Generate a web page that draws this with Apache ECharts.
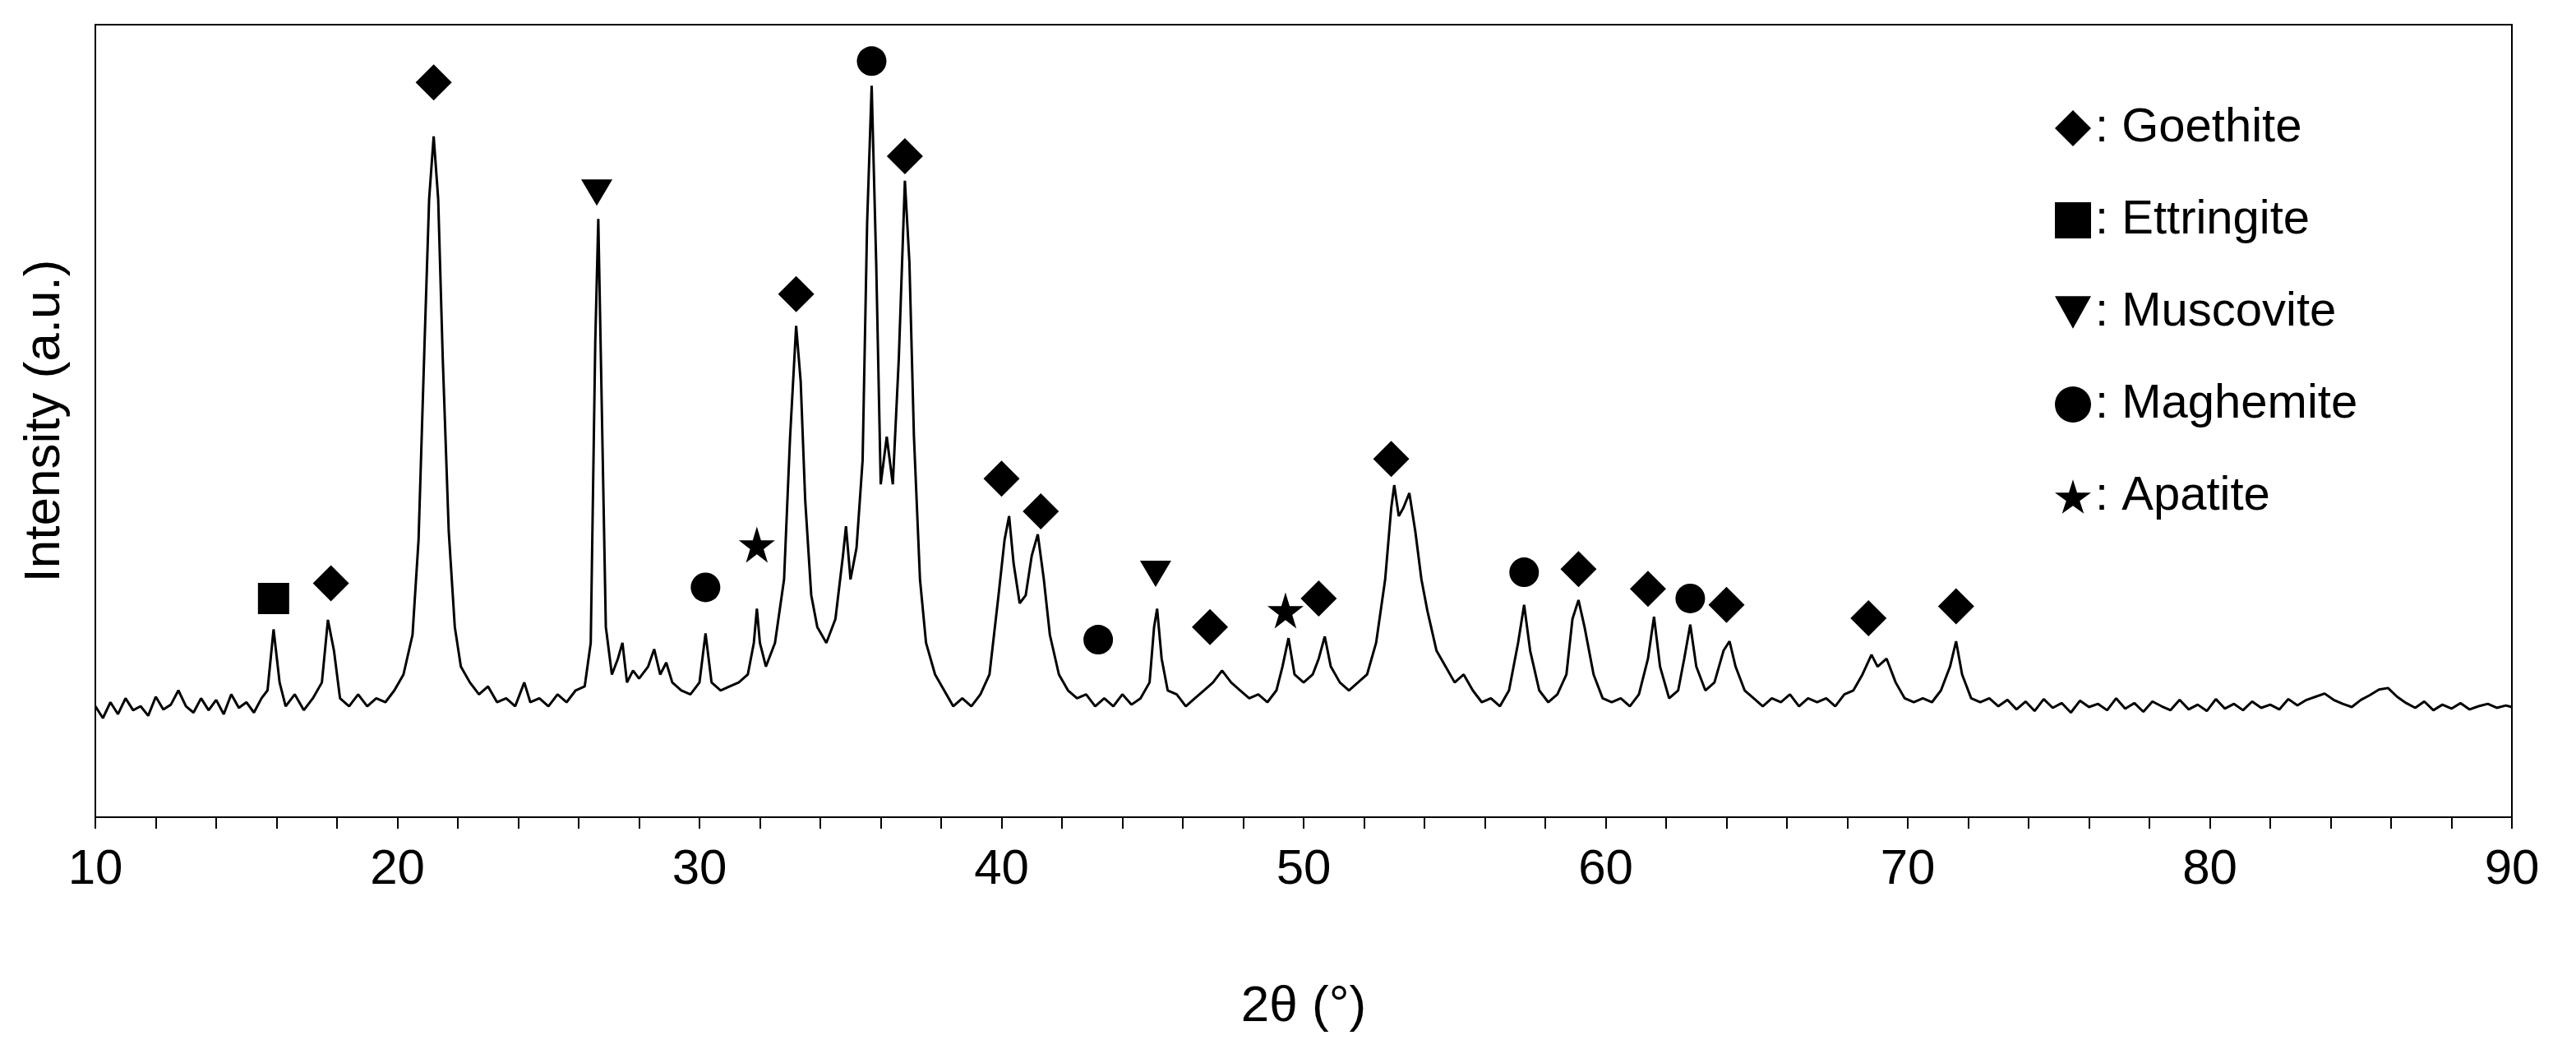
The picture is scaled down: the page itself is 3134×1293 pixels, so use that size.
<!DOCTYPE html><html><head><meta charset="utf-8"><script src="https://cdn.jsdelivr.net/npm/echarts@6/dist/echarts.min.js"></script>
<style>html,body{margin:0;background:#fff}#c{width:3134px;height:1293px}</style></head><body><div id="c"></div><script>
const twoTheta=[10,10.25,10.5,10.75,11,11.25,11.5,11.75,12,12.25,12.5,12.75,13,13.25,13.5,13.75,14,14.25,14.5,14.75,15,15.25,15.5,15.7,15.9,16.1,16.3,16.6,16.9,17.2,17.5,17.7,17.9,18.1,18.4,18.7,19,19.3,19.6,19.9,20.2,20.5,20.7,20.9,21.05,21.2,21.35,21.5,21.7,21.9,22.1,22.4,22.7,23,23.3,23.6,23.9,24.2,24.4,24.7,25,25.3,25.6,25.9,26.2,26.4,26.55,26.65,26.75,26.9,27.1,27.3,27.45,27.6,27.8,28,28.3,28.5,28.7,28.9,29.1,29.4,29.7,30,30.2,30.4,30.7,31,31.3,31.6,31.8,31.9,32,32.2,32.5,32.8,33,33.2,33.35,33.5,33.7,33.9,34.2,34.5,34.75,34.85,35,35.2,35.4,35.55,35.7,35.85,36,36.2,36.4,36.6,36.8,36.95,37.1,37.3,37.5,37.8,38.1,38.4,38.7,39,39.3,39.6,39.9,40.1,40.25,40.4,40.6,40.8,41,41.2,41.4,41.6,41.9,42.2,42.5,42.8,43.1,43.4,43.7,44,44.3,44.6,44.9,45.05,45.15,45.3,45.5,45.8,46.1,46.4,46.7,47,47.3,47.6,47.9,48.2,48.5,48.8,49.1,49.3,49.5,49.7,50,50.3,50.5,50.7,50.9,51.2,51.5,51.8,52.1,52.4,52.7,52.9,53,53.15,53.3,53.5,53.7,53.9,54.1,54.4,54.7,55,55.3,55.6,55.9,56.2,56.5,56.8,57.1,57.3,57.5,57.8,58.1,58.4,58.7,58.9,59.1,59.3,59.6,59.9,60.2,60.5,60.8,61.1,61.4,61.6,61.8,62.1,62.4,62.6,62.8,63,63.3,63.6,63.9,64.1,64.3,64.6,64.9,65.2,65.5,65.8,66.1,66.4,66.7,67,67.3,67.6,67.9,68.2,68.5,68.8,69,69.3,69.6,69.9,70.2,70.5,70.8,71.1,71.4,71.6,71.8,72.1,72.4,72.7,73,73.3,73.6,73.9,74.2,74.5,74.8,75.1,75.4,75.7,76,76.3,76.6,76.9,77.2,77.5,77.8,78.1,78.4,78.7,79,79.3,79.6,79.9,80.2,80.5,80.8,81.1,81.4,81.7,82,82.3,82.6,82.9,83.2,83.5,83.8,84.1,84.4,84.7,85,85.3,85.6,85.9,86.2,86.5,86.8,87.1,87.4,87.7,88,88.3,88.6,88.9,89.2,89.5,89.8,90];
const intensity=[14,12.5,14.5,13,15,13.5,14,12.8,15.2,13.6,14.2,16,14,13.2,15,13.5,14.8,13,15.5,13.8,14.5,13.2,15,16,23.7,17,14,15.5,13.5,15,17,24.9,21,15,14,15.5,14,15,14.5,16,18,23,35,60,78,85.9,78,58,36,24,19,17,15.5,16.5,14.5,15,14,17,14.5,15,14,15.5,14.5,16,16.5,22,60,75.5,55,24,18,20,22,17,18.5,17.5,19,21.2,18,19.5,17,16,15.5,17,23.2,17,16,16.5,17,18,22,26.3,22,19,22,30,48,62,55,40,28,24,22,25,33,36.7,30,34,45,75,92.3,70,42,48,42,58,80.3,70,48,30,22,18,16,14,15,14,15.5,18,28,35,38,32,27,28,33,35.7,30,23,18,16,15,15.5,14,15,14,15.5,14.2,15,17,24,26.3,20,16,15.5,14,15,16,17,18.5,17,16,15,15.5,14.5,16,19,22.6,18,17,18,20,22.8,19,17,16,17,18,22,30,39,41.9,38,39,40.9,36,30,26,21,19,17,18,16,14.5,15,14,16,22,26.8,21,16,14.5,15.5,18,25,27.4,24,18,15,14.5,15,14,15.5,20,25.3,19,15,16,20,24.3,19,16,17,21,22.2,19,16,15,14,15,14.5,15.5,14,15,14.5,15,14,15.5,16,18,20.5,19,20,17,15,14.5,15,14.5,16,19,22.2,18,15,14.5,15,14,14.8,13.6,14.6,13.4,14.9,13.8,14.4,13.2,14.7,13.9,14.3,13.5,15,13.7,14.4,13.3,14.6,14,13.5,14.8,13.6,14.2,13.4,14.9,13.7,14.3,13.5,14.6,13.8,14.2,13.6,14.9,14.1,14.8,15.2,15.6,14.8,14.3,13.9,14.8,15.4,16.1,16.3,15.2,14.4,13.8,14.6,13.5,14.2,13.7,14.4,13.6,14,14.3,13.8,14.1,13.9,14.2];
const goethite=[[17.8,29.5],[21.2,92.7],[33.2,66],[36.8,83.4],[40.0,42.7],[41.3,38.6],[46.9,24],[50.5,27.6],[52.9,45.2],[59.1,31.3],[61.4,28.8],[64.0,26.8],[68.7,25.1],[71.6,26.6]];
const ettringite=[[15.9,27.6]];
const muscovite=[[26.6,78.8],[45.1,30.7]];
const maghemite=[[30.2,29],[35.7,95.4],[43.2,22.4],[57.3,30.9],[62.8,27.6]];
const apatite=[[31.9,34.4],[49.4,26.1]];
const names=[': Goethite',': Ettringite',': Muscovite',': Maghemite',': Apatite'];
const star='path://M50,0 L61,35 L98,35 L68,57 L79,91 L50,70 L21,91 L32,57 L2,35 L39,35 Z';
const sc=(name,data,symbol,size)=>({type:'scatter',name,data,symbol,symbolSize:size,itemStyle:{color:'#000',opacity:1},z:5});
const chart=echarts.init(document.getElementById('c'));
chart.setOption({animation:false,
grid:{left:116,right:78,top:30,bottom:299,show:true,borderColor:'#000',borderWidth:2},
legend:{orient:'vertical',left:2495,top:122,itemGap:54,itemWidth:44,itemHeight:44,textStyle:{fontSize:58,color:'#000',fontFamily:'Liberation Sans'},data:names},
xAxis:{type:'value',min:10,max:90,interval:10,name:'2θ (°)',nameLocation:'middle',nameGap:200,nameTextStyle:{fontSize:62,color:'#000',fontFamily:'Liberation Sans'},
axisLine:{lineStyle:{color:'#000',width:2}},axisTick:{length:14,lineStyle:{color:'#000',width:2}},minorTick:{show:true,splitNumber:5,length:14,lineStyle:{color:'#000',width:2}},
axisLabel:{fontSize:60,color:'#000',margin:34,fontFamily:'Liberation Sans'},splitLine:{show:false}},
yAxis:{type:'value',min:0,max:100,name:'Intensity (a.u.)',nameLocation:'middle',nameGap:30,nameTextStyle:{fontSize:62,color:'#000',fontFamily:'Liberation Sans'},
axisLine:{show:true,lineStyle:{color:'#000',width:2}},axisTick:{show:false},axisLabel:{show:false},splitLine:{show:false}},
series:[{type:'line',data:twoTheta.map((x,i)=>[x,intensity[i]]),symbol:'none',lineStyle:{color:'#000',width:3},z:2},
sc(names[0],goethite,'diamond',44),sc(names[1],ettringite,'rect',38),sc(names[2],muscovite,'path://M0,0 L100,0 L50,90 Z',[38,32]),sc(names[3],maghemite,'circle',36),sc(names[4],apatite,star,44)]});
</script></body></html>
